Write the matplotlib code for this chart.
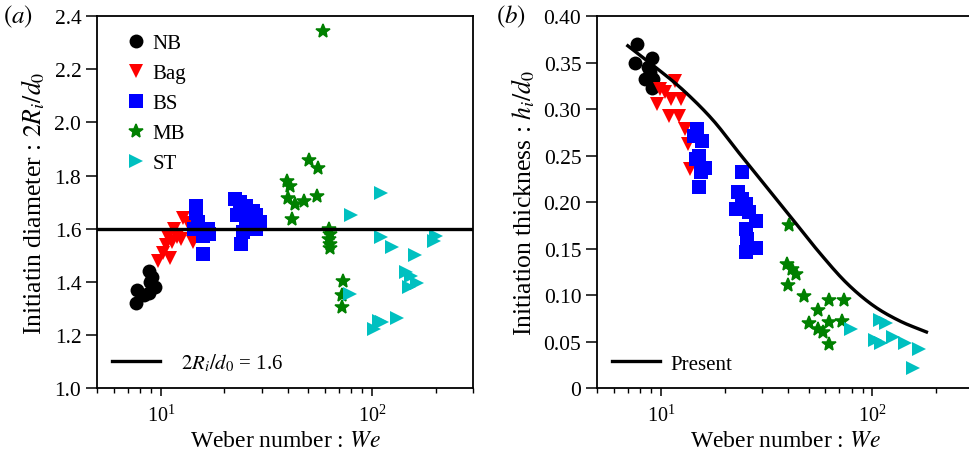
import numpy as np
import matplotlib
matplotlib.use("Agg")
import matplotlib.pyplot as plt
from matplotlib.lines import Line2D

plt.rcParams["font.family"] = ["Liberation Serif", "DejaVu Serif"]
plt.rcParams["mathtext.fontset"] = "stix"

# ---------------- panel (a): initiation diameter ----------------
nb_we_a = [7.6, 7.7, 8.3, 8.8, 8.9, 8.8, 9.4, 9.1]
nb_d_a = [1.32, 1.37, 1.35, 1.36, 1.40, 1.44, 1.38, 1.42]

bag_we_a = [9.7, 10.2, 10.6, 10.8, 11.0, 11.3, 11.6, 11.9, 12.5, 12.7, 13.5, 14.2]
bag_d_a = [1.48, 1.51, 1.54, 1.57, 1.49, 1.55, 1.60, 1.57, 1.56, 1.64, 1.62, 1.55]

bs_we_a = [14.3, 14.75, 14.75, 15.0, 15.3, 15.8, 15.8, 16.7, 17.0,
           22.4, 23.0, 23.6, 24.1, 24.5, 25.4, 25.4, 26.5, 27.3, 27.3, 28.3, 28.3, 29.4]
bs_d_a = [1.60, 1.687, 1.66, 1.625, 1.60, 1.574, 1.505, 1.60, 1.58,
          1.712, 1.65, 1.70, 1.543, 1.587, 1.687, 1.62, 1.64, 1.668, 1.60, 1.65, 1.60, 1.625]

mb_we_a = [58.4, 50.2, 55.3, 39.5, 40.7, 40.0, 43.4, 47.4, 54.8, 41.8,
           62.5, 63.0, 62.7, 63.2, 63.0, 73.2, 71.9, 71.9]
mb_d_a = [2.344, 1.86, 1.828, 1.78, 1.759, 1.715, 1.694, 1.706, 1.725, 1.637,
          1.599, 1.58, 1.562, 1.543, 1.527, 1.405, 1.349, 1.305]

st_we_a = [110.3, 79.6, 110.0, 125.0, 159.6, 144.7, 152.6, 163.7, 150.0, 200.0,
           196.0, 78.6, 102.4, 108.0, 112.0, 132.0]
st_d_a = [1.734, 1.653, 1.568, 1.531, 1.503, 1.437, 1.424, 1.395, 1.38, 1.572,
          1.555, 1.355, 1.223, 1.254, 1.25, 1.263]

d_const = 1.6

# ---------------- panel (b): initiation thickness ----------------
nb_we_b = [7.7, 7.5, 9.1, 8.7, 8.4, 9.2, 9.1, 8.9]
nb_h_b = [0.370, 0.350, 0.355, 0.345, 0.332, 0.332, 0.323, 0.340]

bag_we_b = [11.7, 9.95, 9.57, 11.1, 12.4, 10.9, 12.2, 13.06, 13.5, 13.8, 10.5]
bag_h_b = [0.330, 0.3215, 0.305, 0.311, 0.311, 0.293, 0.293, 0.2785, 0.262, 0.2355, 0.318]

bs_we_b = [14.8, 14.3, 15.66, 15.1, 16.25, 15.4, 15.1, 14.6,
           24.3, 23.2, 22.6, 25.2, 26.1, 28.1, 25.2, 25.6, 25.2, 28.1, 24.3]
bs_h_b = [0.2785, 0.271, 0.266, 0.25, 0.237, 0.232, 0.2158, 0.246,
          0.232, 0.2104, 0.1925, 0.198, 0.189, 0.18, 0.171, 0.16, 0.146, 0.151, 0.203]

mb_we_b = [40.45, 39.7, 41.6, 43.5, 40.0, 47.3, 55.5, 62.7, 73.3, 50.3, 62.7, 71.9, 55.1, 58.2, 62.7]
mb_h_b = [0.1756, 0.134, 0.128, 0.1226, 0.111, 0.0993, 0.0842, 0.0946, 0.0946,
          0.0699, 0.0713, 0.0724, 0.0634, 0.060, 0.0473]

st_we_b = [79.4, 108.3, 116.5, 102.6, 110.4, 125.3, 143.0, 167.0, 155.5]
st_h_b = [0.0642, 0.0731, 0.070, 0.052, 0.049, 0.0552, 0.049, 0.042, 0.0222]

model_we = [6.97, 9.06, 12.58, 17.5, 23.4, 31.3, 41.95, 56.2, 75.2, 100.7, 134.9, 180.6]
model_h = [0.368, 0.348, 0.3215, 0.289, 0.253, 0.2175, 0.1817, 0.1459, 0.1137, 0.0892, 0.0724, 0.0605]

# ---------------- styling ----------------
styles = {
    "NB": dict(marker="o", color="black", ms=10),
    "Bag": dict(marker="v", color="#ff0000", ms=10.5),
    "BS": dict(marker="s", color="#0000ff", ms=9.5),
    "MB": dict(marker="*", color="#008000", ms=10),
    "ST": dict(marker=">", color="#00c0c0", ms=10.5),
}

TICK_FS = 15.5
XLABEL_FS = 17
YLABEL_FS = 18.5
LEGEND_FS = 15


def smooth_curve(xs, ys, n=20):
    """Catmull-Rom path through the given nodes, built in log-x space."""
    lx = np.log10(np.asarray(xs, float))
    y = np.asarray(ys, float)
    px = np.concatenate([[2 * lx[0] - lx[1]], lx, [2 * lx[-1] - lx[-2]]])
    py = np.concatenate([[2 * y[0] - y[1]], y, [2 * y[-1] - y[-2]]])
    out_x, out_y = [], []
    t = np.linspace(0, 1, n, endpoint=False)
    for i in range(1, len(px) - 2):
        for arr, out in ((px, out_x), (py, out_y)):
            p0, p1, p2, p3 = arr[i - 1], arr[i], arr[i + 1], arr[i + 2]
            out.extend(0.5 * (2 * p1 + (-p0 + p2) * t
                              + (2 * p0 - 5 * p1 + 4 * p2 - p3) * t ** 2
                              + (-p0 + 3 * p1 - 3 * p2 + p3) * t ** 3))
    out_x.append(lx[-1])
    out_y.append(y[-1])
    return 10 ** np.array(out_x), np.array(out_y)


fig = plt.figure(figsize=(9.7, 4.6), dpi=100)
ax_a = fig.add_axes([0.1003, 0.1537, 0.3870, 0.8093])
ax_b = fig.add_axes([0.6158, 0.1537, 0.3873, 0.8093])


def draw_series(ax, name, x, y):
    st = styles[name]
    ax.plot(x, y, linestyle="none", marker=st["marker"], color=st["color"],
            markersize=st["ms"], markeredgewidth=1.1 if name == "MB" else 0.0,
            label=name, zorder=3)


def style_axes(ax):
    ax.set_xscale("log")
    ax.set_xlim(5, 300)
    for sp in ax.spines.values():
        sp.set_linewidth(1.3)
    ax.tick_params(axis="x", which="major", direction="out", length=6, width=1.1,
                   labelsize=TICK_FS - 1, pad=6, top=False)
    ax.tick_params(axis="x", which="minor", direction="out", length=3.5, width=1.0, top=False)
    ax.tick_params(axis="y", which="major", direction="out", length=8, width=1.1,
                   labelsize=TICK_FS, right=False)
    ax.set_xlabel(r"Weber number : $\mathit{We}$", fontsize=XLABEL_FS, labelpad=3)


# panel (a)
draw_series(ax_a, "NB", nb_we_a, nb_d_a)
draw_series(ax_a, "Bag", bag_we_a, bag_d_a)
draw_series(ax_a, "BS", bs_we_a, bs_d_a)
draw_series(ax_a, "MB", mb_we_a, mb_d_a)
draw_series(ax_a, "ST", st_we_a, st_d_a)
ax_a.axhline(d_const, color="black", lw=2.4, zorder=4)
style_axes(ax_a)
ax_a.set_ylim(1.0, 2.4)
ax_a.set_yticks([1.0, 1.2, 1.4, 1.6, 1.8, 2.0, 2.2, 2.4])
ax_a.set_yticklabels(["1.0", "1.2", "1.4", "1.6", "1.8", "2.0", "2.2", "2.4"])
ax_a.set_ylabel(r"Initiatin diameter : $2R_i/d_0$", fontsize=YLABEL_FS, labelpad=5)
ax_a.text(-0.25, 1.0, r"$(a)$", transform=ax_a.transAxes, fontsize=18,
          ha="left", va="center")

leg1 = ax_a.legend(loc="upper left", bbox_to_anchor=(0.053, 0.976), borderaxespad=0,
                   frameon=False, fontsize=LEGEND_FS, handletextpad=0.3,
                   labelspacing=0.5, handlelength=1.0)
ax_a.add_artist(leg1)
ax_a.legend([Line2D([0], [0], color="black", lw=2.4)], [r"$2R_i/d_0$ = 1.6"],
            loc="lower left", frameon=False, fontsize=LEGEND_FS, handlelength=2.3,
            handletextpad=1.0, borderaxespad=0.3)

# panel (b)
draw_series(ax_b, "NB", nb_we_b, nb_h_b)
draw_series(ax_b, "Bag", bag_we_b, bag_h_b)
draw_series(ax_b, "BS", bs_we_b, bs_h_b)
draw_series(ax_b, "MB", mb_we_b, mb_h_b)
draw_series(ax_b, "ST", st_we_b, st_h_b)
cx, cy = smooth_curve(model_we, model_h)
ax_b.plot(cx, cy, color="black", lw=2.4, zorder=4, label="Present")
style_axes(ax_b)
ax_b.set_ylim(0, 0.40)
ax_b.set_yticks([0, 0.05, 0.10, 0.15, 0.20, 0.25, 0.30, 0.35, 0.40])
ax_b.set_yticklabels(["0", "0.05", "0.10", "0.15", "0.20", "0.25", "0.30", "0.35", "0.40"])
ax_b.set_ylabel(r"Initiation thickness : $h_i/d_0$", fontsize=YLABEL_FS, labelpad=5)
ax_b.text(-0.27, 1.0, r"$(b)$", transform=ax_b.transAxes, fontsize=18,
          ha="left", va="center")
ax_b.legend([Line2D([0], [0], color="black", lw=2.4)], ["Present"],
            loc="lower left", frameon=False, fontsize=LEGEND_FS, handlelength=2.3,
            handletextpad=0.5, borderaxespad=0.3)

fig.savefig("out.png", dpi=100)
